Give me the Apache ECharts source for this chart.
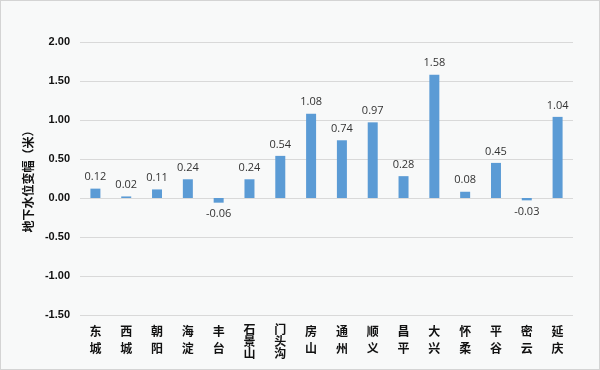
<!DOCTYPE html>
<html><head><meta charset="utf-8">
<script src="https://cdn.jsdelivr.net/npm/echarts@6/dist/echarts.min.js"></script>
<style>html,body{margin:0;padding:0;background:#f8f9f9;}#c{width:598px;height:368px;border:1px solid #d4d4d4;}</style>
</head><body><div id="c"></div>
<script>
var categories = ['东城','西城','朝阳','海淀','丰台','石景山','门头沟','房山','通州','顺义','昌平','大兴','怀柔','平谷','密云','延庆'];
var values = [0.12,0.02,0.11,0.24,-0.06,0.24,0.54,1.08,0.74,0.97,0.28,1.58,0.08,0.45,-0.03,1.04];
var yTicks = {min:-1.5, max:2.0, interval:0.5};
var yName = '地下水位变幅（米）';

var chart = echarts.init(document.getElementById('c'));
var lblBase = {color:'#111',fontSize:12,fontWeight:'bold',fontFamily:'Noto Sans CJK SC'};
chart.setOption({
  backgroundColor:'#f8f9f9',
  animation:false,
  grid:{left:79,right:26,top:41,bottom:54,outerBoundsMode:'none',containLabel:false},
  xAxis:{type:'category',data:categories,
    axisLine:{show:false},axisTick:{show:false},
    axisLabel:{interval:0,margin:8,color:'#111',fontSize:12,fontWeight:'bold',
      fontFamily:'Noto Sans CJK SC',verticalAlign:'top',
      rich:{
        a:Object.assign({lineHeight:17},lblBase),
        b:Object.assign({lineHeight:12},lblBase)
      },
      formatter:function(v){
        var k = v.length>2?'b':'a';
        return v.split('').map(function(c){return '{'+k+'|'+c+'}';}).join('\n');
      }}},
  yAxis:{type:'value',min:yTicks.min,max:yTicks.max,interval:yTicks.interval,
    name:yName,nameLocation:'middle',nameRotate:90,nameGap:46,
    nameTextStyle:{fontSize:12,color:'#111',fontFamily:'Noto Sans CJK SC',fontWeight:'bold'},
    axisLine:{show:false},axisTick:{show:false},
    splitLine:{lineStyle:{color:'#d9d9d9',width:1}},
    axisLabel:{margin:10,color:'#111',fontSize:11,fontWeight:'bold',fontFamily:'Liberation Sans',
      formatter:function(v){return v.toFixed(2);}}},
  series:[{type:'bar',barWidth:10,
    itemStyle:{color:'#5b9bd5'},
    label:{show:true,position:'top',distance:6,color:'#333',fontSize:11,fontFamily:'Open Sans',
      formatter:function(p){return p.value.toFixed(2);}},
    data:values.map(function(v){return v<0?{value:v,label:{position:'bottom'}}:v;})
  }]
});
</script></body></html>
